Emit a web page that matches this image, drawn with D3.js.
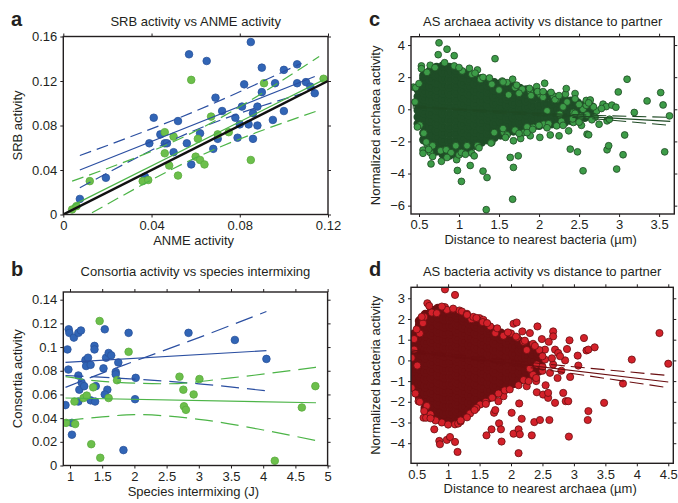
<!DOCTYPE html>
<html>
<head>
<meta charset="utf-8">
<script src="https://cdn.jsdelivr.net/npm/d3@7"></script>
<style>
  body { margin: 0; background: #fff; }
  text { font-family: "Liberation Sans", Arial, sans-serif; fill: #231f20; }
</style>
</head>
<body>
<svg id="chart" width="678" height="503"></svg>
<script>
// ---- panel a: SRB vs ANME activity ----
const blueA = [[0.0075,0.014],[0.0193,0.033],[0.037,0.034],[0.039,0.064],[0.041,0.087],[0.044,0.072],[0.046,0.064],[0.047,0.064],
  [0.050,0.056],[0.052,0.084],[0.057,0.144],[0.056,0.064],[0.058,0.045],[0.062,0.073],[0.065,0.138],[0.068,0.059],[0.069,0.105],
  [0.070,0.068],[0.072,0.093],[0.078,0.087],[0.079,0.069],[0.080,0.081],[0.081,0.097],[0.082,0.117],[0.084,0.081],[0.085,0.155],
  [0.086,0.068],[0.086,0.091],[0.088,0.097],[0.088,0.080],[0.090,0.132],[0.090,0.110],[0.095,0.085],[0.096,0.118],[0.100,0.093],
  [0.100,0.130],[0.106,0.118],[0.106,0.135],[0.110,0.119],[0.112,0.115],[0.114,0.109]];
const greenA = [[0.004,0.0045],[0.006,0.0075],[0.012,0.030],[0.036,0.030],[0.0385,0.031],[0.046,0.074],[0.046,0.055],[0.048,0.044],
  [0.050,0.070],[0.052,0.035],[0.058,0.121],[0.060,0.052],[0.061,0.068],[0.062,0.049],[0.064,0.045],[0.067,0.088],[0.070,0.072],
  [0.075,0.074],[0.085,0.049],[0.091,0.118],[0.118,0.122]];
const oneToOneA = [[0,0],[0.12,0.12]];
const blueFitA = [[0.0075,0.040],[0.114,0.124]];
const blueUpA = [[0.0075,0.053],[0.06,0.093],[0.108,0.136]];
const blueLoA = [[0.0075,0.024],[0.06,0.076],[0.114,0.112]];
const greenFitA = [[0.004,0.008],[0.118,0.121]];
const greenUpA = [[0.004,0.030],[0.06,0.075],[0.116,0.142]];
const greenLoA = [[0.013,0.0015],[0.06,0.051],[0.115,0.093]];

// ---- panel b: consortia activity vs intermixing ----
const blueB = [[0.93,0.051],[0.96,0.098],[0.98,0.115],[0.975,0.081],[0.99,0.112],[1.06,0.108],[1.13,0.112],[1.17,0.114],
  [1.13,0.076],[1.03,0.036],[1.03,0.026],[1.145,0.064],[1.18,0.070],[1.13,0.054],[1.22,0.067],[1.24,0.089],[1.25,0.084],
  [1.28,0.091],[1.32,0.085],[1.32,0.055],[1.39,0.054],[1.38,0.101],[1.38,0.098],[1.40,0.067],[1.52,0.082],[1.54,0.115],
  [1.56,0.091],[1.60,0.095],[1.64,0.093],[1.58,0.064],[1.54,0.060],[1.71,0.079],[1.75,0.087],[1.71,0.077],[1.83,0.013],
  [1.91,0.112],[2.02,0.074],[2.01,0.056],[2.84,0.112],[3.56,0.106],[4.05,0.090]];
const greenB = [[0.94,0.036],[1.07,0.054],[1.08,0.035],[1.21,0.057],[1.26,0.059],[1.33,0.018],[1.36,0.066],[1.46,0.122],
  [1.47,0.0065],[1.60,0.057],[1.73,0.072],[1.91,0.096],[2.70,0.075],[2.76,0.064],[2.77,0.050],[2.80,0.047],[2.92,0.060],
  [3.01,0.073],[4.18,0.004],[4.60,0.049],[4.81,0.067]];
const blueFitB = [[0.93,0.087],[4.05,0.097]];
const blueUpB = [[0.93,0.066],[1.5,0.078],[2,0.088],[3,0.108],[4.05,0.130]];
const blueLoB = [[0.93,0.076],[2,0.073],[3,0.069],[4.05,0.063]];
const greenFitB = [[0.93,0.057],[4.82,0.053]];
const greenUpB = [[0.93,0.075],[1.5,0.071],[2.5,0.069],[3.5,0.074],[4.82,0.083]];
const greenLoB = [[0.93,0.038],[1.5,0.041],[2,0.043],[3,0.039],[4,0.030],[4.82,0.021]];

// ---- panel c: archaea activity vs distance (dense core columns + scattered points) ----
const coreC = [
  [0.49,[-0.9,-0.48,-0.06,0.37,0.79,1.22]],
  [0.56,[-1.9,-1.48,-1.05,-0.63,-0.21,0.22,0.64,1.06,1.49,1.91,2.1]],
  [0.64,[-2.4,-1.98,-1.55,-1.13,-0.71,-0.28,0.14,0.57,0.99,1.41,1.84,2.26,2.4]],
  [0.72,[-2.6,-2.17,-1.75,-1.33,-0.9,-0.48,-0.05,0.37,0.8,1.22,1.64,2.07,2.49,2.6]],
  [0.80,[-2.8,-2.38,-1.95,-1.52,-1.1,-0.67,-0.25,0.18,0.6,1.03,1.45,1.88,2.3,2.7]],
  [0.88,[-2.85,-2.42,-2.0,-1.57,-1.15,-0.72,-0.3,0.13,0.55,0.98,1.4,1.83,2.25,2.6]],
  [0.96,[-2.8,-2.37,-1.95,-1.52,-1.1,-0.67,-0.25,0.18,0.6,1.03,1.45,1.88,2.3,2.45]],
  [1.04,[-2.65,-2.23,-1.8,-1.38,-0.95,-0.53,-0.1,0.32,0.75,1.17,1.6,2.02,2.3]],
  [1.12,[-2.45,-2.03,-1.6,-1.18,-0.75,-0.33,0.1,0.52,0.95,1.37,1.8,2.2]],
  [1.20,[-2.25,-1.83,-1.4,-0.98,-0.55,-0.13,0.3,0.72,1.15,1.57,2.02]],
  [1.28,[-2.05,-1.63,-1.2,-0.78,-0.35,0.07,0.5,0.92,1.35,1.77,1.9]],
  [1.36,[-1.9,-1.48,-1.05,-0.63,-0.2,0.22,0.65,1.07,1.5,1.8]],
  [1.44,[-1.75,-1.33,-0.9,-0.48,-0.05,0.37,0.8,1.22,1.65]],
  [1.52,[-1.6,-1.18,-0.75,-0.33,0.1,0.52,0.95,1.37,1.6]],
  [1.60,[-1.45,-1.03,-0.6,-0.18,0.25,0.67,1.1,1.5]],
  [1.68,[-1.35,-0.93,-0.5,-0.08,0.35,0.77,1.2,1.4]],
  [1.76,[-1.25,-0.83,-0.4,0.02,0.45,0.87,1.3]],
  [1.84,[-1.15,-0.73,-0.3,0.12,0.55,0.97,1.2]],
  [1.92,[-1.05,-0.63,-0.2,0.22,0.65,1.07]],
  [2.00,[-1.0,-0.58,-0.15,0.27,0.7,1.0]],
  [2.08,[-0.95,-0.53,-0.1,0.32,0.75,0.9]],
  [2.16,[-0.9,-0.48,-0.05,0.37,0.8]],
  [2.24,[-0.85,-0.43,0.0,0.42,0.7]],
  [2.32,[-0.8,-0.38,0.05,0.47,0.6]],
  [2.40,[-0.7,-0.28,0.15,0.5]],
  [2.48,[-0.6,-0.18,0.25,0.4]],
  [2.57,[-0.5,-0.08,0.25]],
  [2.66,[-0.45,-0.05,0.15]]
];
const outerC = [[0.43,1.38],[0.45,0.46],[0.46,1.35],[0.51,-0.99],[0.53,2.7],[0.53,2.53],[0.56,-1.49],[0.6,-2.17],[0.64,2.74],
  [0.64,-2.69],[0.67,-2.27],[0.55,-2.54],[0.55,-2.74],[0.59,-2.04],[0.67,-2.94],[0.65,-3.4],[0.7,2.6],[0.74,3.4],[0.75,4.14],
  [0.77,-2.58],[0.78,-3.24],[0.84,-2.52],[0.85,3.74],[0.9,-2.7],[0.94,3.34],[0.94,2.7],[0.96,-2.27],[0.97,-3.14],[0.98,-3.81],
  [1.0,-2.84],[1.03,-4.49],[1.03,-2.69],[1.04,2.39],[1.1,-2.27],[1.13,2.55],[1.14,-3.5],[1.16,-2.73],[1.16,2.18],[1.19,-2.9],
  [1.23,2.45],[1.23,-2.27],[1.27,1.87],[1.3,1.99],[1.3,-3.85],[1.34,-6.25],[1.35,-4.25],[1.41,-2.07],[1.41,1.56],[1.44,-1.45],
  [1.45,3.15],[1.54,1.76],[1.56,-1.45],[1.6,1.66],[1.64,-3.0],[1.67,1.87],[1.67,-5.6],[1.68,-3.62],[1.68,-1.96],[1.74,-2.9],
  [1.77,-1.82],[1.79,1.25],[1.81,-1.45],[1.89,-1.65],[1.89,1.14],[1.93,-1.13],[1.97,1.41],[2.01,0.94],[2.01,-1.75],[2.06,-0.93],
  [2.07,1.62],[2.1,-0.1],[2.14,-1.6],[2.18,0.83],[2.22,0.63],[2.22,-1.03],[2.25,-1.65],[2.26,-0.31],[2.33,0.94],[2.34,1.29],
  [2.37,-1.34],[2.39,-2.48],[2.43,-0.2],[2.43,-0.82],[2.45,0.98],[2.48,-2.65],[2.53,-1.0],[2.55,-3.83],[2.55,0.0],[2.59,0.25],
  [2.59,0.55],[2.6,-1.55],[2.62,-1.59],[2.64,0.58],[2.72,-0.1],[2.75,-0.93],[2.8,0.32],[2.84,0.17],[2.85,-0.72],[2.85,-2.52],
  [2.87,-2.27],[2.88,-0.62],[2.91,0.26],[2.96,0.13],[2.97,-3.72],[2.99,1.08],[3.05,-2.83],[3.07,-1.6],[3.1,1.87],[3.19,-0.2],
  [3.35,0.52],[3.52,1.04],[3.55,0.27],[3.57,-2.65],[3.63,-0.41],
  [1.5,1.2],[1.55,-1.2],[1.62,0.9],[1.7,-1.3],[1.75,1.0],[1.85,-1.1],[1.9,0.85],[2.0,-1.0],[2.05,0.75],[2.12,-0.9],[2.2,0.6],
  [2.28,-0.75],[2.35,0.45],[2.42,-0.6],[2.5,0.3],[2.52,-0.45],[2.6,-0.35],[2.68,0.15],[2.7,-0.5],[2.78,0.05],[2.3,0.15],
  [2.45,-0.25],[1.98,1.1],[2.15,1.05],[1.7,1.35],[1.6,-1.6],[1.85,-1.45],
  [0.48,-1.1],[0.5,1.6],[0.6,2.3],[0.62,-2.5],[0.82,2.9],[0.85,-3.0],[1.0,2.6],[1.08,-2.8],[1.2,2.25],[1.25,-2.4],[1.38,1.95],
  [1.4,-2.1],[1.55,1.7],[1.58,-1.75],[1.72,1.5],[1.75,-1.5],[1.88,1.3],[1.92,-1.25],[2.05,1.1],[2.1,-1.15],[2.25,0.85],
  [2.3,-1.0],[2.45,0.65],[2.5,-0.8],[2.62,0.4],[2.66,-0.65]];
const fitC = [[0.42,0.16],[3.64,-0.75]];
const upC = [[0.42,0.24],[0.9,0.06],[1.5,-0.1],[2.56,-0.35],[3.64,-0.5]];
const loC = [[0.42,0.08],[0.9,-0.02],[1.5,-0.24],[2.56,-0.55],[3.64,-1.0]];

// ---- panel d: bacteria activity vs distance ----
const coreD = [
  [0.46,[-1.2,-0.85,-0.5,-0.15,0.2,0.55,0.9,1.25]],
  [0.55,[-1.8,-1.45,-1.1,-0.75,-0.4,-0.05,0.3,0.65,1.0,1.35,1.7,1.9]],
  [0.64,[-2.3,-1.95,-1.6,-1.25,-0.9,-0.55,-0.2,0.15,0.5,0.85,1.2,1.55,1.9,2.2]],
  [0.74,[-2.6,-2.25,-1.9,-1.55,-1.2,-0.85,-0.5,-0.15,0.2,0.55,0.9,1.25,1.6,1.95,2.3,2.4]],
  [0.84,[-2.8,-2.45,-2.1,-1.75,-1.4,-1.05,-0.7,-0.35,0.0,0.35,0.7,1.05,1.4,1.75,2.1,2.45,2.5]],
  [0.94,[-2.9,-2.55,-2.2,-1.85,-1.5,-1.15,-0.8,-0.45,-0.1,0.25,0.6,0.95,1.3,1.65,2.0,2.35,2.4]],
  [1.04,[-2.9,-2.55,-2.2,-1.85,-1.5,-1.15,-0.8,-0.45,-0.1,0.25,0.6,0.95,1.3,1.65,2.0,2.3]],
  [1.14,[-2.8,-2.45,-2.1,-1.75,-1.4,-1.05,-0.7,-0.35,0.0,0.35,0.7,1.05,1.4,1.75,2.1,2.2]],
  [1.24,[-2.6,-2.25,-1.9,-1.55,-1.2,-0.85,-0.5,-0.15,0.2,0.55,0.9,1.25,1.6,1.95,2.1]],
  [1.34,[-2.4,-2.05,-1.7,-1.35,-1.0,-0.65,-0.3,0.05,0.4,0.75,1.1,1.45,1.8,2.0]],
  [1.44,[-2.2,-1.85,-1.5,-1.15,-0.8,-0.45,-0.1,0.25,0.6,0.95,1.3,1.65,1.9]],
  [1.54,[-2.0,-1.65,-1.3,-0.95,-0.6,-0.25,0.1,0.45,0.8,1.15,1.5,1.8]],
  [1.64,[-1.8,-1.45,-1.1,-0.75,-0.4,-0.05,0.3,0.65,1.0,1.35,1.6]],
  [1.74,[-1.6,-1.25,-0.9,-0.55,-0.2,0.15,0.5,0.85,1.2,1.45]],
  [1.84,[-1.4,-1.05,-0.7,-0.35,0.0,0.35,0.7,1.05,1.3]],
  [1.94,[-1.25,-0.9,-0.55,-0.2,0.15,0.5,0.85,1.15]],
  [2.04,[-1.1,-0.75,-0.4,-0.05,0.3,0.65,1.0]],
  [2.14,[-0.95,-0.6,-0.25,0.1,0.45,0.8,0.9]],
  [2.24,[-0.85,-0.5,-0.15,0.2,0.55,0.75]],
  [2.34,[-0.7,-0.35,0.0,0.35,0.55]],
  [2.44,[-0.5,-0.15,0.2,0.35]]
];
const outerD = [[0.42,-1.33],[0.42,0.12],[0.46,1.03],[0.46,0.52],[0.51,-0.25],[0.53,-1.97],[0.55,-2.0],[0.61,-2.77],[0.65,-2.77],
  [0.66,-2.2],[0.67,2.76],[0.7,2.63],[0.74,2.31],[0.78,-3.33],[0.82,2.28],[0.86,-3.89],[0.87,-4.05],[0.95,3.43],[0.95,2.57],
  [0.98,2.44],[0.98,-3.84],[1.03,-3.7],[1.11,3.16],[1.11,-3.94],[1.11,-3.09],[1.15,-4.42],[1.16,-3.05],[1.18,2.41],[1.22,2.36],
  [1.35,-2.56],[1.37,1.99],[1.5,2.04],[1.51,-2.13],[1.56,1.96],[1.61,-3.62],[1.67,1.64],[1.69,-3.33],[1.73,-2.53],[1.75,1.32],
  [1.75,-2.4],[1.8,-1.97],[1.81,-3.04],[1.84,-3.33],[1.85,-3.92],[1.88,-1.73],[1.88,1.19],[2.01,-2.53],[2.04,1.77],[2.04,-3.54],
  [2.09,1.83],[2.12,-3.33],[2.12,-4.48],[2.13,-2.08],[2.14,-3.57],[2.17,-2.82],[2.18,1.4],[2.25,-1.25],[2.3,1.32],[2.33,-3.62],
  [2.35,-0.69],[2.37,-2.98],[2.41,-1.54],[2.41,-0.2],[2.42,1.64],[2.46,-2.88],[2.49,1.03],[2.51,-1.65],[2.54,0.52],[2.54,0.04],
  [2.59,-1.81],[2.59,-1.57],[2.61,-2.88],[2.67,1.4],[2.67,1.16],[2.67,-0.2],[2.7,0.52],[2.7,-2.05],[2.74,-0.85],[2.75,0.36],
  [2.83,-1.57],[2.86,0.0],[2.87,-1.97],[2.89,0.55],[2.91,-1.97],[2.92,-3.68],[2.93,0.97],[2.94,-0.8],[3.06,0.23],[3.07,-0.25],
  [3.16,1.08],[3.2,0.48],[3.22,-2.88],[3.23,0.52],[3.23,-2.45],[3.33,0.63],[3.48,-2.05],[3.78,-1.12],[3.92,0.04],[4.36,1.32],
  [4.5,-0.16],
  [2.2,0.9],[2.25,0.5],[2.3,-0.4],[2.35,0.8],[2.4,-1.0],[2.45,0.5],[2.5,-0.5],[2.55,-1.2],[2.6,0.9],[2.62,-0.6],[2.2,-0.95],
  [2.1,1.1],[2.0,1.3],[1.9,-1.45],[1.7,-1.8],[1.6,-2.0],[1.55,1.85],[1.45,-2.3],[1.3,-2.75],[1.2,-2.95],[0.9,-3.0],[0.8,-2.9],
  [0.72,-2.6],[0.6,1.8],[0.55,1.3],[0.62,2.1],[1.4,2.1],[1.3,2.25],[2.78,0.2],[2.8,-0.5],[2.65,0.1],
  [0.5,1.5],[0.48,-1.6],[0.58,2.1],[0.62,-2.45],[0.72,-2.8],[0.9,2.6],[1.0,-3.1],[1.08,2.5],[1.2,-2.9],[1.3,2.2],[1.42,-2.4],
  [1.45,2.05],[1.6,-2.1],[1.62,1.8],[1.78,1.55],[1.8,-1.6],[1.95,1.35],[1.98,-1.4],[2.08,1.15],[2.12,-1.2],[2.22,0.95],
  [2.28,-1.0],[2.38,0.7],[2.4,-0.85],[2.5,0.2],[2.5,-0.3]];
const fitD = [[0.42,0.43],[4.5,-1.04]];
const upD = [[0.42,0.5],[1.0,0.31],[2.3,-0.1],[4.5,-0.73]];
const loD = [[0.42,0.36],[1.0,0.17],[2.3,-0.35],[4.5,-1.32]];

// tick values
const ticksAx = [0, 0.04, 0.08, 0.12], ticksAy = [0, 0.04, 0.08, 0.12, 0.16];
const ticksBx = [1, 1.5, 2, 2.5, 3, 3.5, 4, 4.5, 5], ticksBy = [0, 0.02, 0.04, 0.06, 0.08, 0.1, 0.12, 0.14];
const ticksCx = [0.5, 1, 1.5, 2, 2.5, 3, 3.5], ticksCy = [-6, -4, -2, 0, 2, 4];
const ticksDx = [0.5, 1, 1.5, 2, 2.5, 3, 3.5, 4, 4.5], ticksDy = [-4, -3, -2, -1, 0, 1, 2, 3];

const BLUE = '#3165b6', BLUE_S = '#2a539c', BLUE_L = '#2b4fa1';
const GREEN = '#6cbf4b', GREEN_S = '#5aab3e', GREEN_L = '#4cb447';
const CG = '#3d9c48', CG_S = '#1f4a24', CG_CORE = '#1f4d27';
const CR = '#d3212a', CR_S = '#6a0e10', CR_CORE = '#6c0f11';

const fmtNum = d => d === 0 ? '0' : String(+d.toFixed(2)).replace('-', '\u2212');
const fmtA = d => d === 0 ? '0' : d3.format('.2f')(d);

const svg = d3.select('#chart');

const panels = [
  { letter: 'a', title: 'SRB activity vs ANME activity', xLab: 'ANME activity', yLab: 'SRB activity',
    box: [63.3, 328, 36.5, 214.5], xd: [0, 0.12], yd: [0, 0.16], xt: ticksAx, yt: ticksAy, fx: fmtA, fy: fmtA,
    lx: 11, ly: 26, ylx: 22 },
  { letter: 'b', title: 'Consortia activity vs species intermixing', xLab: 'Species intermixing (J)', yLab: 'Consortia activity',
    box: [63.3, 327.6, 292, 465.5], xd: [0.896, 5], yd: [0, 0.1465], xt: ticksBx, yt: ticksBy, fx: fmtNum, fy: fmtNum,
    lx: 11, ly: 276, ylx: 22 },
  { letter: 'c', title: 'AS archaea activity vs distance to partner', xLab: 'Distance to nearest bacteria (\u00b5m)', yLab: 'Normalized archaea activity',
    box: [411, 674.3, 36.7, 214], xd: [0.4, 3.69], yd: [-6.52, 4.52], xt: ticksCx, yt: ticksCy, fx: fmtNum, fy: fmtNum,
    lx: 369, ly: 26, ylx: 380 },
  { letter: 'd', title: 'AS bacteria activity vs distance to partner', xLab: 'Distance to nearest archaea (\u00b5m)', yLab: 'Normalized bacteria activity',
    box: [411, 673.3, 287.3, 463.3], xd: [0.41, 4.58], yd: [-4.97, 3.53], xt: ticksDx, yt: ticksDy, fx: fmtNum, fy: fmtNum,
    lx: 369, ly: 276, ylx: 380 }
];

function setup(p) {
  const [x0, x1, y0, y1] = p.box;
  const x = d3.scaleLinear().domain(p.xd).range([x0, x1]);
  const y = d3.scaleLinear().domain(p.yd).range([y1, y0]);
  const g = svg.append('g');
  const clipId = 'clip' + p.letter;
  svg.append('clipPath').attr('id', clipId).append('rect')
    .attr('x', x0).attr('y', y0).attr('width', x1 - x0).attr('height', y1 - y0);
  const plot = g.append('g').attr('clip-path', `url(#${clipId})`);

  const style = sel => {
    sel.select('.domain').remove();
    sel.selectAll('line').attr('stroke', '#231f20');
    sel.selectAll('text').attr('font-size', 13).attr('font-family', '"Liberation Sans", Arial, sans-serif').attr('fill', '#231f20');
  };
  g.append('g').attr('transform', `translate(0,${y1})`)
    .call(d3.axisBottom(x).tickValues(p.xt).tickSize(3).tickPadding(3).tickFormat(p.fx)).call(style);
  g.append('g').attr('transform', `translate(0,${y0})`)
    .call(d3.axisTop(x).tickValues(p.xt).tickSize(3).tickFormat('')).call(style);
  g.append('g').attr('transform', `translate(${x0},0)`)
    .call(d3.axisLeft(y).tickValues(p.yt).tickSize(3).tickPadding(3).tickFormat(p.fy)).call(style);
  g.append('g').attr('transform', `translate(${x1},0)`)
    .call(d3.axisRight(y).tickValues(p.yt).tickSize(3).tickFormat('')).call(style);

  g.append('text').attr('x', (x0 + x1) / 2).attr('y', p.ly).attr('text-anchor', 'middle')
    .attr('font-size', 13).text(p.title);
  g.append('text').attr('x', p.lx).attr('y', p.ly).attr('font-size', 20).attr('font-weight', 'bold').text(p.letter);
  g.append('text').attr('x', (x0 + x1) / 2 - 2).attr('y', y1 + 30).attr('text-anchor', 'middle')
    .attr('font-size', 13).text(p.xLab);
  g.append('text').attr('transform', `translate(${p.ylx},${(y0 + y1) / 2}) rotate(-90)`)
    .attr('text-anchor', 'middle').attr('font-size', 13).text(p.yLab);

  return { x, y, g, plot, frame: () => g.append('rect').attr('x', x0).attr('y', y0)
    .attr('width', x1 - x0).attr('height', y1 - y0).attr('fill', 'none')
    .attr('stroke', '#231f20').attr('stroke-width', 1.4) };
}

function dots(layer, sc, data, r, fill, stroke, sw) {
  layer.append('g').selectAll('circle').data(data).join('circle')
    .attr('cx', d => sc.x(d[0])).attr('cy', d => sc.y(d[1])).attr('r', r)
    .attr('fill', fill).attr('stroke', stroke).attr('stroke-width', sw || 0.8);
}
function path(layer, sc, data, color, w, dash) {
  const line = d3.line().x(d => sc.x(d[0])).y(d => sc.y(d[1])).curve(d3.curveMonotoneX);
  layer.append('path').datum(data).attr('d', line).attr('fill', 'none')
    .attr('stroke', color).attr('stroke-width', w).attr('stroke-dasharray', dash || null);
}
const flatCore = core => core.flatMap(([xv, ys]) => ys.map(yv => [xv, yv]));

// panel a
const sa = setup(panels[0]);
dots(sa.plot, sa, blueA, 3.8, BLUE, BLUE_S);
dots(sa.plot, sa, greenA, 3.8, GREEN, GREEN_S);
path(sa.plot, sa, blueFitA, BLUE_L, 1.2);
path(sa.plot, sa, blueUpA, BLUE_L, 1.2, '12,6');
path(sa.plot, sa, blueLoA, BLUE_L, 1.2, '12,6');
path(sa.plot, sa, greenFitA, GREEN_L, 1.2);
path(sa.plot, sa, greenUpA, GREEN_L, 1.2, '12,6');
path(sa.plot, sa, greenLoA, GREEN_L, 1.2, '12,6');
path(sa.plot, sa, oneToOneA, '#111', 2.4);
sa.frame();

// panel b
const sb = setup(panels[1]);
dots(sb.plot, sb, blueB, 3.8, BLUE, BLUE_S);
dots(sb.plot, sb, greenB, 3.8, GREEN, GREEN_S);
path(sb.plot, sb, blueFitB, BLUE_L, 1.2);
path(sb.plot, sb, blueUpB, BLUE_L, 1.2, '18,8');
path(sb.plot, sb, blueLoB, BLUE_L, 1.2, '18,8');
path(sb.plot, sb, greenFitB, GREEN_L, 1.2);
path(sb.plot, sb, greenUpB, GREEN_L, 1.2, '18,8');
path(sb.plot, sb, greenLoB, GREEN_L, 1.2, '18,8');
sb.frame();

// panel c
const sc = setup(panels[2]);
dots(sc.plot, sc, flatCore(coreC), 3.4, CG_CORE, CG_CORE, 2.6);
dots(sc.plot, sc, outerC, 3.4, CG, CG_S);
path(sc.plot, sc, fitC, CG_S, 1.1);
path(sc.plot, sc, upC, CG_S, 1.1, '14,6');
path(sc.plot, sc, loC, CG_S, 1.1, '14,6');
sc.frame();

// panel d
const sd = setup(panels[3]);
dots(sd.plot, sd, flatCore(coreD), 3.6, CR_CORE, CR_CORE, 2.8);
dots(sd.plot, sd, outerD, 3.6, CR, CR_S);
path(sd.plot, sd, fitD, CR_S, 1.1);
path(sd.plot, sd, upD, CR_S, 1.1, '14,6');
path(sd.plot, sd, loD, CR_S, 1.1, '14,6');
sd.frame();
</script>
</body>
</html>
